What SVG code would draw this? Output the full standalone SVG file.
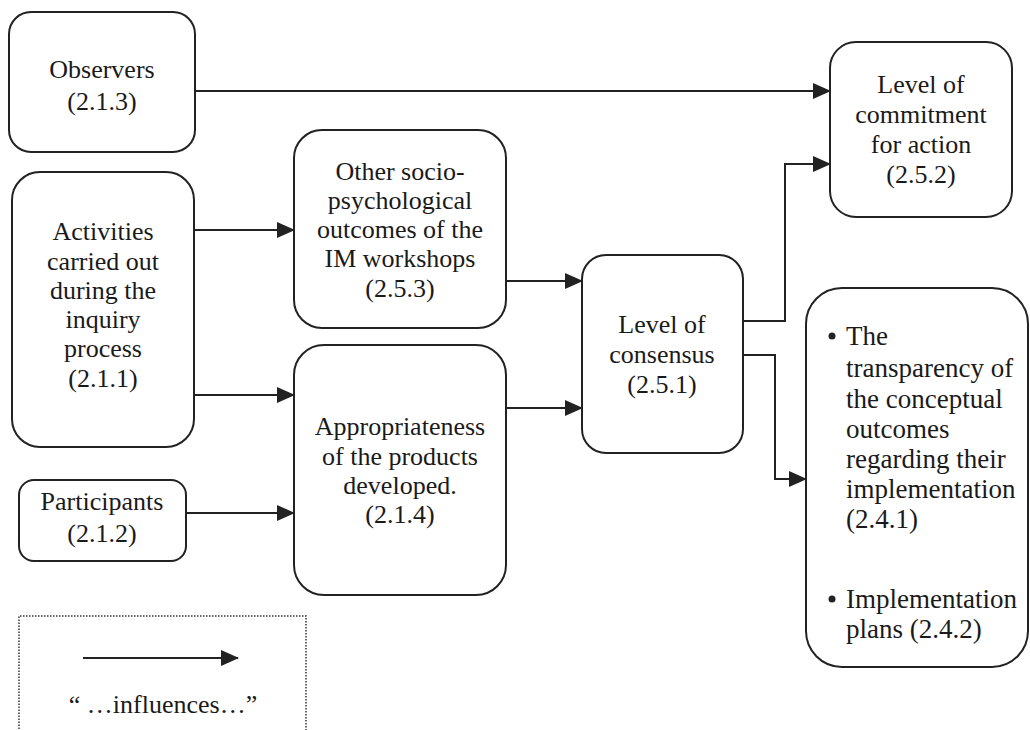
<svg xmlns="http://www.w3.org/2000/svg" width="1030" height="730" viewBox="0 0 1030 730">
  <style>
    .box { fill: #ffffff; stroke: #222222; stroke-width: 2; }
    text { font-family: 'Liberation Serif', 'Times New Roman', serif; fill: #1a1a1a; }
    .lbl { font-size: 26px; text-anchor: middle; }
    .lst { font-size: 27px; }
    .wire { fill: none; stroke: #222222; stroke-width: 2; }
    .legend { fill: none; stroke: #333333; stroke-width: 1.5; stroke-dasharray: 1.5 1.5; }
  </style>
  <defs>
    <marker id="arrow" viewBox="0 0 18 16" markerUnits="userSpaceOnUse" markerWidth="18" markerHeight="16" refX="17" refY="8" orient="auto">
      <path d="M0,0 L18,8 L0,16 Z" fill="#222222"/>
    </marker>
  </defs>
  <rect width="1030" height="730" fill="#ffffff"/>

  <!-- connectors -->
  <g id="connectors">
    <path class="wire" d="M195,91 H830" marker-end="url(#arrow)"/>
    <path class="wire" d="M194,230 H294" marker-end="url(#arrow)"/>
    <path class="wire" d="M194,395 H294" marker-end="url(#arrow)"/>
    <path class="wire" d="M186,513 H294" marker-end="url(#arrow)"/>
    <path class="wire" d="M506,281 H582" marker-end="url(#arrow)"/>
    <path class="wire" d="M506,408 H582" marker-end="url(#arrow)"/>
    <path class="wire" d="M743,321 H785 V164 H830" marker-end="url(#arrow)"/>
    <path class="wire" d="M743,355 H775 V479 H806" marker-end="url(#arrow)"/>
  </g>

  <g id="observers">
    <rect class="box" x="9" y="12" width="186" height="140" rx="22"/>
    <text class="lbl" x="102" y="78">Observers</text>
    <text class="lbl" x="102" y="110">(2.1.3)</text>
  </g>

  <g id="activities">
    <rect class="box" x="12" y="172" width="182" height="275" rx="28"/>
    <text class="lbl" x="103" y="240">Activities</text>
    <text class="lbl" x="103" y="270">carried out</text>
    <text class="lbl" x="103" y="299">during the</text>
    <text class="lbl" x="103" y="328">inquiry</text>
    <text class="lbl" x="103" y="357">process</text>
    <text class="lbl" x="103" y="387">(2.1.1)</text>
  </g>

  <g id="participants">
    <rect class="box" x="19" y="480" width="167" height="81" rx="15"/>
    <text class="lbl" x="102" y="510">Participants</text>
    <text class="lbl" x="102" y="542">(2.1.2)</text>
  </g>

  <g id="other-outcomes">
    <rect class="box" x="294" y="130" width="212" height="198" rx="28"/>
    <text class="lbl" x="400" y="180">Other socio-</text>
    <text class="lbl" x="400" y="209">psychological</text>
    <text class="lbl" x="400" y="238">outcomes of the</text>
    <text class="lbl" x="400" y="267">IM workshops</text>
    <text class="lbl" x="400" y="297">(2.5.3)</text>
  </g>

  <g id="appropriateness">
    <rect class="box" x="294" y="345" width="212" height="250" rx="30"/>
    <text class="lbl" x="400" y="435">Appropriateness</text>
    <text class="lbl" x="400" y="465">of the products</text>
    <text class="lbl" x="400" y="494">developed.</text>
    <text class="lbl" x="400" y="523">(2.1.4)</text>
  </g>

  <g id="consensus">
    <rect class="box" x="582" y="255" width="161" height="198" rx="24"/>
    <text class="lbl" x="662" y="333">Level of</text>
    <text class="lbl" x="662" y="363">consensus</text>
    <text class="lbl" x="662" y="393">(2.5.1)</text>
  </g>

  <g id="commitment">
    <rect class="box" x="830" y="42" width="182" height="175" rx="26"/>
    <text class="lbl" x="921" y="93">Level of</text>
    <text class="lbl" x="921" y="123">commitment</text>
    <text class="lbl" x="921" y="153">for action</text>
    <text class="lbl" x="921" y="183">(2.5.2)</text>
  </g>

  <g id="implementation">
    <rect class="box" x="806" y="288" width="222" height="379" rx="36"/>
    <circle cx="832" cy="336" r="3.5" fill="#222222"/>
    <text class="lst" x="846" y="345">The</text>
    <text class="lst" x="846" y="377">transparency of</text>
    <text class="lst" x="846" y="408">the conceptual</text>
    <text class="lst" x="846" y="438">outcomes</text>
    <text class="lst" x="846" y="468">regarding their</text>
    <text class="lst" x="846" y="498">implementation</text>
    <text class="lst" x="846" y="528">(2.4.1)</text>
    <circle cx="832" cy="599" r="3.5" fill="#222222"/>
    <text class="lst" x="846" y="608">Implementation</text>
    <text class="lst" x="846" y="638">plans (2.4.2)</text>
  </g>

  <g id="legend">
    <path class="legend" d="M19,735 V616 H306 V735"/>
    <path class="wire" d="M83,658 H238" marker-end="url(#arrow)"/>
    <text class="lbl" x="163" y="713">“ …influences…”</text>
  </g>
</svg>
